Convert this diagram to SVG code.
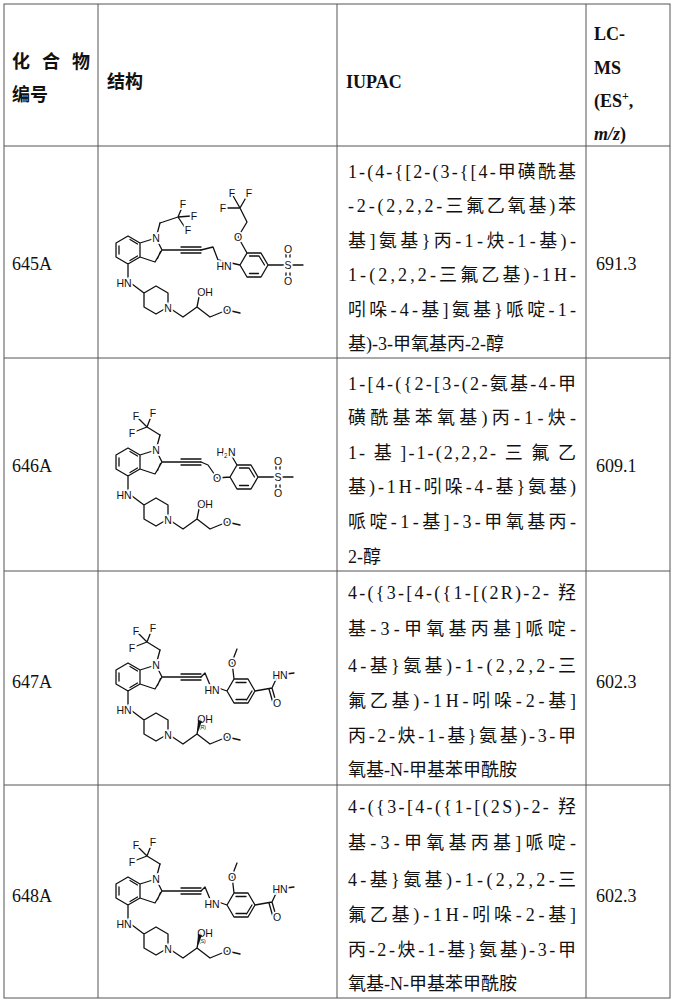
<svg xmlns="http://www.w3.org/2000/svg" xmlns:xlink="http://www.w3.org/1999/xlink" width="674" height="1000" viewBox="0 0 674 1000">
<style>
.grid{stroke:#555;stroke-width:1;fill:none}
.t{font-family:"Liberation Serif","Noto Sans CJK SC",serif;font-size:18px;fill:#111}
.h{font-family:"Liberation Serif","Noto Sans CJK SC",serif;font-size:18px;font-weight:bold;fill:#111}
.b{stroke:#111;stroke-width:1.3;fill:none;stroke-linecap:round;stroke-linejoin:round}
.a{font-family:"Liberation Sans",Arial,sans-serif;font-size:10.5px;fill:#111;text-anchor:middle;stroke:#fff;stroke-width:3.5;paint-order:stroke;dominant-baseline:central}
.s{font-family:"Liberation Sans",Arial,sans-serif;font-size:5px;fill:#111}
</style>
<defs>
<g id="core">
<path class="b" d="M128,236 L140,243 L140,257 L128,264 L116,257 L116,243 Z M119,246 L119,254 M130,239.5 L137.5,244 M130,260.5 L137.5,256 M140,243 L156,238 L162,250 L155,262 L140,257 M157.5,258.5 L160.5,251.5 M156,238 L160,223 M162,250 L181,250 M181,250 L201,250 M181,247 L201,247 M181,253 L201,253 M128,264 L128,281 L144,293 M144,293 L156,286 L168,293 L168,307 L156,314 L144,307 Z M168,307 L183,317 L197,307 L210,317 L227,310 L240,313 M197,307 L200,292"/>
<text class="a" x="156" y="238">N</text>
<text class="a" x="124" y="283">HN</text>
<text class="a" x="168" y="308">N</text>
<text class="a" x="205" y="292">OH</text>
<text class="a" x="227" y="310">O</text>
</g>
<g id="cf3left">
<path class="b" d="M160,223 L147,215 L137,205 M147,215 L152,202 M147,215 L134,220"/>
<text class="a" x="136" y="204">F</text>
<text class="a" x="153" y="201">F</text>
<text class="a" x="132" y="221">F</text>
</g>
<g id="amide">
<path class="b" d="M201,250 L205,246 L210,258 L227,264 M227,264 L234,252 L248,252 L255,264 L248,276 L234,276 Z M236,255.5 L246,255.5 M236,272.5 L246,272.5 M252,264 L246.5,273 M234,252 L232,235 L237,222 M255,264 L272,261 L278,248 L294,246 M272,261 L276,275 M269,262 L273,276"/>
<text class="a" x="212" y="263">HN</text>
<text class="a" x="232" y="236">O</text>
<text class="a" x="280" y="248">HN</text>
<text class="a" x="277" y="276">O</text>
</g>
</defs>

<g id="table">
<rect class="grid" x="4" y="4" width="666" height="994"/>
<path class="grid" d="M98,4 V998 M337,4 V998 M586,4 V998 M4,146 H670 M4,358 H670 M4,571 H670 M4,785 H670"/>
</g>

<g id="header">
<text class="h" x="12" y="68" textLength="78" lengthAdjust="spacing">化合物</text>
<text class="h" x="12" y="101">编号</text>
<text class="h" x="107" y="88">结构</text>
<text class="h" x="346" y="88">IUPAC</text>
<text class="h" x="594" y="40">LC-</text>
<text class="h" x="594" y="74">MS</text>
<text class="h" x="594" y="107">(ES<tspan font-size="12" baseline-shift="super">+</tspan>,</text>
<text class="h" x="594" y="140"><tspan font-style="italic">m/z</tspan>)</text>
</g>

<g id="row645A">
<text class="t" x="12" y="270">645A</text>
<use xlink:href="#core"/>
<path class="b" d="M160,223 L178,217 L183,205 M178,217 L191,216 M178,217 L186,229 M247,253 L240,265 L247,277 L261,277 L268,265 L261,253 Z M249.5,256 L258.5,256 M249.5,273.5 L258.5,273.5 M264.5,265 L259,256 M201,250 L213,247 L218,260 L240,265 M247,253 L238,237 L247,222 L240,208 L232,194 M240,208 L248,194 M240,208 L224,208 M268,265 L303,265 M286,253 L286,257 M290,253 L290,257 M286,273 L286,277 M290,273 L290,277"/>
<text class="a" x="183" y="204">F</text>
<text class="a" x="194" y="216">F</text>
<text class="a" x="188" y="230">F</text>
<text class="a" x="224" y="266">HN</text>
<text class="a" x="238" y="237">O</text>
<text class="a" x="232" y="193">F</text>
<text class="a" x="249" y="193">F</text>
<text class="a" x="223" y="208">F</text>
<text class="a" x="288" y="265">S</text>
<text class="a" x="288" y="249">O</text>
<text class="a" x="288" y="281">O</text>
<g class="t">
<text x="348" y="178" textLength="228" lengthAdjust="spacing">1-(4-{[2-(3-{[4-甲磺酰基</text>
<text x="348" y="212" textLength="228" lengthAdjust="spacing">-2-(2,2,2-三氟乙氧基)苯</text>
<text x="348" y="247" textLength="228" lengthAdjust="spacing">基]氨基}丙-1-炔-1-基)-</text>
<text x="348" y="281" textLength="228" lengthAdjust="spacing">1-(2,2,2-三氟乙基)-1H-</text>
<text x="348" y="316" textLength="228" lengthAdjust="spacing">吲哚-4-基]氨基}哌啶-1-</text>
<text x="348" y="350">基)-3-甲氧基丙-2-醇</text>
</g>
<text class="t" x="596" y="270">691.3</text>
</g>

<g id="row646A">
<text class="t" x="12" y="472">646A</text>
<g transform="translate(0,212)">
<use xlink:href="#core"/>
<use xlink:href="#cf3left"/>
<path class="b" d="M201,250 L208,253 L217,266 L230,265 M230,265 L237,253 L251,253 L258,265 L251,277 L237,277 Z M239.5,256 L248.5,256 M239.5,273.5 L248.5,273.5 M254.5,265 L249,256 M237,253 L230,241 M258,265 L293,265 M276,253 L276,257 M280,253 L280,257 M276,273 L276,277 M280,273 L280,277"/>
<text class="a" x="217" y="266">O</text>
<text class="a" x="226" y="240">H<tspan font-size="7" dy="3">2</tspan><tspan dy="-3">N</tspan></text>
<text class="a" x="278" y="265">S</text>
<text class="a" x="278" y="249">O</text>
<text class="a" x="278" y="281">O</text>
</g>
<g class="t">
<text x="348" y="390" textLength="228" lengthAdjust="spacing">1-[4-({2-[3-(2-氨基-4-甲</text>
<text x="348" y="424" textLength="228" lengthAdjust="spacing">磺酰基苯氧基)丙-1-炔-</text>
<text x="348" y="459" textLength="228" lengthAdjust="spacing">1- 基 ]-1-(2,2,2- 三 氟 乙</text>
<text x="348" y="493" textLength="228" lengthAdjust="spacing">基)-1H-吲哚-4-基}氨基)</text>
<text x="348" y="528" textLength="228" lengthAdjust="spacing">哌啶-1-基]-3-甲氧基丙-</text>
<text x="348" y="563">2-醇</text>
</g>
<text class="t" x="596" y="472">609.1</text>
</g>

<g id="row647A">
<text class="t" x="12" y="688">647A</text>
<g transform="translate(0,427)">
<use xlink:href="#core"/>
<use xlink:href="#cf3left"/>
<use xlink:href="#amide"/>
<path d="M197,307 L198,293 L202,294 Z" fill="#111"/>
<text class="s" x="199" y="302">(R)</text>
</g>
<g class="t">
<text x="348" y="599" textLength="228" lengthAdjust="spacing">4-({3-[4-({1-[(2R)-2-  羟</text>
<text x="348" y="635" textLength="228" lengthAdjust="spacing">基-3-甲氧基丙基]哌啶-</text>
<text x="348" y="672" textLength="228" lengthAdjust="spacing">4-基}氨基)-1-(2,2,2-三</text>
<text x="348" y="707" textLength="228" lengthAdjust="spacing">氟乙基)-1H-吲哚-2-基]</text>
<text x="348" y="742" textLength="228" lengthAdjust="spacing">丙-2-炔-1-基}氨基)-3-甲</text>
<text x="348" y="776">氧基-N-甲基苯甲酰胺</text>
</g>
<text class="t" x="596" y="688">602.3</text>
</g>

<g id="row648A">
<text class="t" x="12" y="902">648A</text>
<g transform="translate(0,641)">
<use xlink:href="#core"/>
<use xlink:href="#cf3left"/>
<use xlink:href="#amide"/>
<path d="M197,307 L198,293 L202,294 Z" fill="#111"/>
<text class="s" x="199" y="302">(S)</text>
</g>
<g class="t">
<text x="348" y="813" textLength="228" lengthAdjust="spacing">4-({3-[4-({1-[(2S)-2-  羟</text>
<text x="348" y="849" textLength="228" lengthAdjust="spacing">基-3-甲氧基丙基]哌啶-</text>
<text x="348" y="886" textLength="228" lengthAdjust="spacing">4-基}氨基)-1-(2,2,2-三</text>
<text x="348" y="921" textLength="228" lengthAdjust="spacing">氟乙基)-1H-吲哚-2-基]</text>
<text x="348" y="956" textLength="228" lengthAdjust="spacing">丙-2-炔-1-基}氨基)-3-甲</text>
<text x="348" y="990">氧基-N-甲基苯甲酰胺</text>
</g>
<text class="t" x="596" y="902">602.3</text>
</g>
</svg>
